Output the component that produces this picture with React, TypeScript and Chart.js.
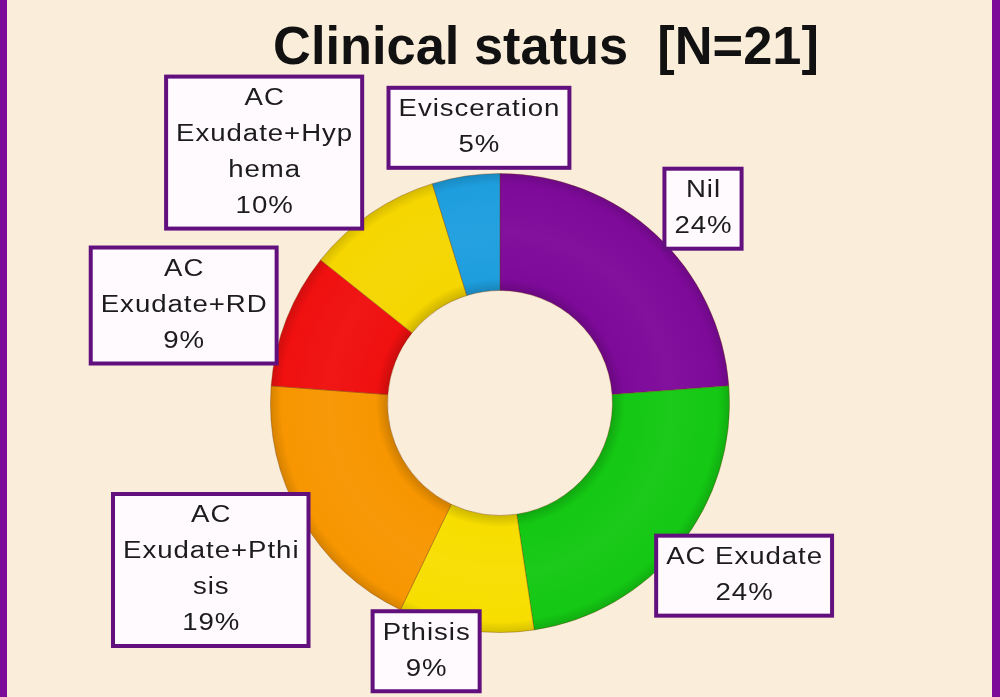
import { useEffect, useRef } from "react";
import { Chart, registerables } from "chart.js";

Chart.register(...registerables);

const chartTitle = "Clinical status  [N=21]";
const categories = [
  "Nil",
  "AC Exudate",
  "Pthisis",
  "AC Exudate+Pthisis",
  "AC Exudate+RD",
  "AC Exudate+Hyphema",
  "Evisceration",
];
const counts = [5, 5, 2, 4, 2, 2, 1];
const percentLabels = ["24%", "24%", "9%", "19%", "9%", "10%", "5%"];
const labelLines = [
  ["Nil"],
  ["AC Exudate"],
  ["Pthisis"],
  ["AC", "Exudate+Pthi", "sis"],
  ["AC", "Exudate+RD"],
  ["AC", "Exudate+Hyp", "hema"],
  ["Evisceration"],
];
const sliceColors = ["#7e0a9a", "#14c814", "#f7de00", "#f79600", "#f01010", "#f5d600", "#1e9ede"];

// label box layout (style only): angular nudge (deg, clockwise) and distance from centre (px)
const labelNudge = [3.4, -3.3, 8, 0, -4.3, -9, 4.2];
const labelDistance = [281, 299, 259, 334, 331, 344, 276];

function shade(hex: string, f: number): string {
  const n = parseInt(hex.slice(1), 16);
  let r = (n >> 16) & 255, g = (n >> 8) & 255, b = n & 255;
  if (f >= 1) {
    const t = f - 1;
    r = r + (255 - r) * t; g = g + (255 - g) * t; b = b + (255 - b) * t;
  } else {
    r *= f; g *= f; b *= f;
  }
  return `rgb(${Math.round(r)},${Math.round(g)},${Math.round(b)})`;
}

export default function App() {
  const ref = useRef<HTMLCanvasElement>(null);

  useEffect(() => {
    const canvas = ref.current;
    if (!canvas) return;

    const bgPlugin = {
      id: "bgFrame",
      beforeDraw(chart: any) {
        const c = chart.ctx;
        c.save();
        c.fillStyle = "#faeedb";
        c.fillRect(0, 0, chart.width, chart.height);
        c.fillStyle = "#7c0b99";
        c.fillRect(0, 0, 7, chart.height);
        c.fillRect(992, 0, 8, chart.height);
        c.fillStyle = "#111";
        c.font = 'bold 54px "Liberation Sans", Arial, sans-serif';
        c.textAlign = "center";
        c.textBaseline = "alphabetic";
        c.translate(546, 64);
        c.scale(0.97, 1);
        c.fillText(chartTitle, 0, 0);
        c.restore();
      },
    };

    const stretch = 1.2;
    const labelPlugin = {
      id: "boxLabels",
      afterDatasetsDraw(chart: any) {
        const c = chart.ctx;
        const meta = chart.getDatasetMeta(0);
        c.save();
        c.font = '23px "Liberation Sans", Arial, sans-serif';
        (c as any).letterSpacing = "0.8px";
        c.textAlign = "center";
        c.textBaseline = "middle";
        meta.data.forEach((arc: any, i: number) => {
          const p = arc.getProps(["x", "y", "startAngle", "endAngle"], true);
          const mid = (p.startAngle + p.endAngle) / 2 + (labelNudge[i] * Math.PI) / 180;
          const cx = p.x + labelDistance[i] * Math.cos(mid);
          const cy = p.y + labelDistance[i] * Math.sin(mid);
          const lines = [...labelLines[i], percentLabels[i]];
          let w = 0;
          lines.forEach((l) => {
            w = Math.max(w, (c.measureText(l).width - 0.8) * stretch);
          });
          const bw = w + 20;
          const lh = 36;
          const bh = lines.length * lh + 8;
          const left = cx - bw / 2;
          const top = cy - bh / 2;
          c.fillStyle = "#fefafd";
          c.fillRect(left, top, bw, bh);
          c.lineWidth = 4;
          c.strokeStyle = "#62107e";
          c.strokeRect(left, top, bw, bh);
          c.fillStyle = "#1c1c1c";
          lines.forEach((l, j) => {
            c.save();
            c.translate(cx + 0.5, top + 4 + lh / 2 + j * lh);
            c.scale(stretch, 1);
            c.fillText(l, 0, 0);
            c.restore();
          });
        });
        c.restore();
      },
    };

    const chart = new Chart(canvas, {
      type: "doughnut",
      data: {
        labels: categories,
        datasets: [
          {
            data: counts,
            backgroundColor: (ctx: any) => {
              const base = sliceColors[ctx.dataIndex % sliceColors.length];
              const area = ctx.chart.chartArea;
              if (!area) return base;
              const cx = (area.left + area.right) / 2;
              const cy = (area.top + area.bottom) / 2;
              const R = Math.min(area.right - area.left, area.bottom - area.top) / 2;
              const g = ctx.chart.ctx.createRadialGradient(cx, cy, R * 0.49, cx, cy, R);
              g.addColorStop(0, shade(base, 0.84));
              g.addColorStop(0.1, shade(base, 1.0));
              g.addColorStop(0.5, shade(base, 1.03));
              g.addColorStop(0.9, shade(base, 1.0));
              g.addColorStop(1, shade(base, 0.86));
              return g;
            },
            borderColor: "rgba(110,50,0,0.35)",
            borderWidth: 1,
          },
        ],
      },
      options: {
        animation: false,
        responsive: false,
        devicePixelRatio: 1,
        cutout: "49%",
        layout: { padding: { left: 270, right: 270, top: 173, bottom: 64 } },
        plugins: {
          legend: { display: false },
          tooltip: { enabled: false },
          title: { display: false },
        },
      },
      plugins: [bgPlugin, labelPlugin],
    });

    return () => chart.destroy();
  }, []);

  return (
    <div style={{ position: "absolute", left: 0, top: 0, width: 1000, height: 697 }}>
      <canvas ref={ref} width={1000} height={697} style={{ display: "block", width: 1000, height: 697 }} />
    </div>
  );
}
